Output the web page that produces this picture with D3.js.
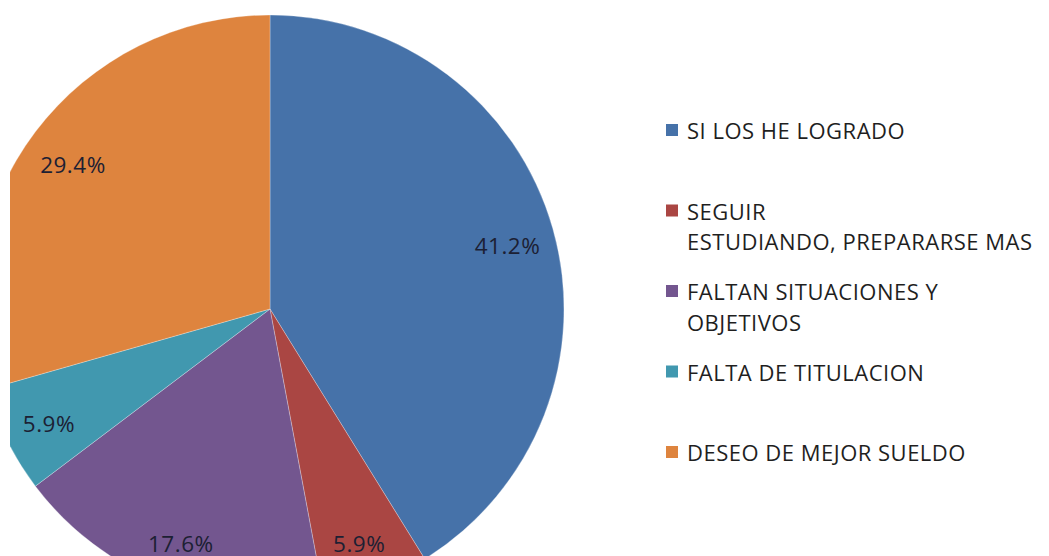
<!DOCTYPE html>
<html>
<head>
<meta charset="utf-8">
<script src="https://cdn.jsdelivr.net/npm/d3@7"></script>
<style>
  html, body { margin: 0; padding: 0; background: #ffffff; }
  svg { display: block; }
</style>
</head>
<body>
<svg id="chart" width="1049" height="556"></svg>
<script>
// Survey answers (counts of respondents) and their legend labels
const categories = [
  "SI LOS HE LOGRADO",
  "SEGUIR ESTUDIANDO, PREPARARSE MAS",
  "FALTAN SITUACIONES Y OBJETIVOS",
  "FALTA DE TITULACION",
  "DESEO DE MEJOR SUELDO"
];
const legendLines = [
  ["SI LOS HE LOGRADO"],
  ["SEGUIR", "ESTUDIANDO, PREPARARSE MAS"],
  ["FALTAN SITUACIONES Y", "OBJETIVOS"],
  ["FALTA DE TITULACION"],
  ["DESEO DE MEJOR SUELDO"]
];
const counts = [7, 1, 3, 1, 5];
const sliceColors = ["#4672A9", "#AA4643", "#73568F", "#4198AF", "#DE843E"];

const width = 1049, height = 556;
const cx = 270, cy = 309, radius = 294;
const clipLeft = 10;
const font = "'Open Sans', 'Liberation Sans', sans-serif";

const svg = d3.select("#chart");

svg.append("defs").append("clipPath").attr("id", "plot-clip")
  .append("rect").attr("x", clipLeft).attr("y", 0)
  .attr("width", width - clipLeft).attr("height", height);

const total = d3.sum(counts);
const color = d3.scaleOrdinal().domain(categories).range(sliceColors);
const pct = d3.format(".1%");

const pie = d3.pie().sort(null).value(d => d.count);
const arcs = pie(categories.map((c, i) => ({ cat: c, count: counts[i] })));

const arc = d3.arc().innerRadius(0).outerRadius(radius);
const labelArc = d3.arc().innerRadius(radius * 0.84).outerRadius(radius * 0.84);

const plot = svg.append("g").attr("clip-path", "url(#plot-clip)");
const g = plot.append("g").attr("transform", `translate(${cx},${cy})`);

g.selectAll("path.slice")
  .data(arcs)
  .join("path")
  .attr("class", "slice")
  .attr("d", arc)
  .attr("fill", d => color(d.data.cat))
  .attr("stroke", "rgba(255,255,255,0.35)")
  .attr("stroke-width", 0.8);

// Percentage labels inside the slices, kept within the visible plot area
const labels = g.selectAll("text.pct")
  .data(arcs)
  .join("text")
  .attr("class", "pct")
  .attr("font-family", font)
  .attr("font-size", 22.5)
  .attr("letter-spacing", 0.5)
  .attr("fill", "#1c2033")
  .attr("text-anchor", "middle")
  .attr("dominant-baseline", "central")
  .text(d => pct(d.data.count / total));

labels.each(function(d) {
  const [x, y] = labelArc.centroid(d);
  const w = this.getComputedTextLength();
  const minX = clipLeft - cx + w / 2 + 1;
  d3.select(this).attr("x", Math.max(x, minX)).attr("y", y + 4);
});

// Legend
const legend = svg.append("g").attr("transform", "translate(666,130)");
const step = 80.5, lineGap = 30.5;
const item = legend.selectAll("g.item")
  .data(categories)
  .join("g")
  .attr("class", "item")
  .attr("transform", (d, i) => `translate(0,${i * step})`);

item.append("rect")
  .attr("x", 0).attr("y", -6)
  .attr("width", 12).attr("height", 12)
  .attr("fill", d => color(d));

item.each(function(d, i) {
  const t = d3.select(this).append("text")
    .attr("font-family", font)
    .attr("font-size", 22)
    .attr("letter-spacing", 0.5)
    .attr("fill", "#1f1f1f");
  legendLines[i].forEach((line, j) => {
    t.append("tspan")
      .attr("x", 21)
      .attr("y", j * lineGap)
      .attr("dominant-baseline", "central")
      .text(line);
  });
});
</script>
</body>
</html>
